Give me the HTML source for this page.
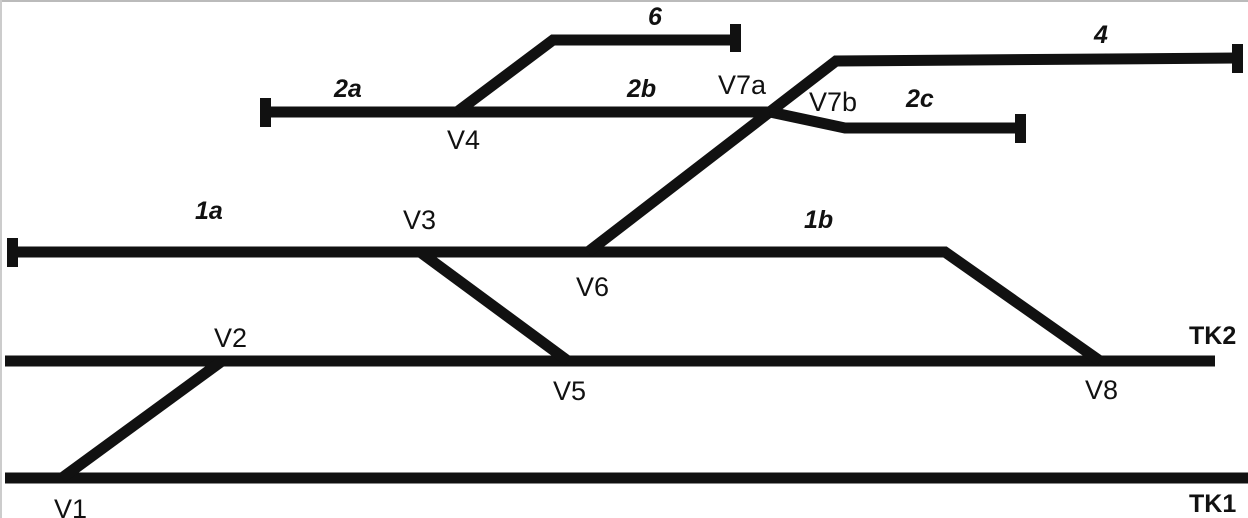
<!DOCTYPE html>
<html><head><style>
html,body{margin:0;padding:0;background:#fff}
svg{display:block}
text{font-family:"Liberation Sans",sans-serif;font-size:27px;fill:#111}
.b{font-weight:bold;font-style:italic;font-size:25px}
.t{font-weight:bold;font-size:25px}
</style></head><body>
<svg width="1248" height="518" viewBox="0 0 1248 518">
<rect x="0" y="0" width="1248" height="2" fill="#bbb"/>
<rect x="0" y="0" width="2" height="518" fill="#ccc"/>
<g stroke="#111" stroke-width="11" fill="none" stroke-linejoin="miter">
<line x1="5" y1="478" x2="1248" y2="478"/>
<line x1="5" y1="361" x2="1215" y2="361"/>
<line x1="62" y1="478" x2="222" y2="361"/>
<line x1="420" y1="252" x2="568" y2="361"/>
<polyline points="12,252 945,252 1100,361"/>
<polyline points="588,252 836,61 1237,58"/>
<line x1="262" y1="112" x2="775" y2="112"/>
<polyline points="770,112 845,128 1020,128"/>
<polyline points="457,112 553,40 735,40"/>
</g>
<g fill="#111">
<rect x="7" y="238" width="11" height="29"/>
<rect x="260" y="98" width="11" height="29"/>
<rect x="730" y="24" width="11" height="28"/>
<rect x="1232" y="44" width="11" height="29"/>
<rect x="1015" y="114" width="11" height="29"/>
</g>
<text x="54" y="518">V1</text>
<text x="1189" y="512" class="t">TK1</text>
<text x="1189" y="344" class="t">TK2</text>
<text x="1085" y="399">V8</text>
<text x="553" y="400">V5</text>
<text x="214" y="347">V2</text>
<text x="576" y="296">V6</text>
<text x="403" y="229">V3</text>
<text x="195" y="219" class="b">1a</text>
<text x="804" y="228" class="b">1b</text>
<text x="447" y="149">V4</text>
<text x="334" y="97" class="b">2a</text>
<text x="627" y="97" class="b">2b</text>
<text x="718" y="94">V7a</text>
<text x="809" y="111">V7b</text>
<text x="906" y="107" class="b">2c</text>
<text x="648" y="25" class="b">6</text>
<text x="1094" y="43" class="b">4</text>
</svg>
</body></html>
